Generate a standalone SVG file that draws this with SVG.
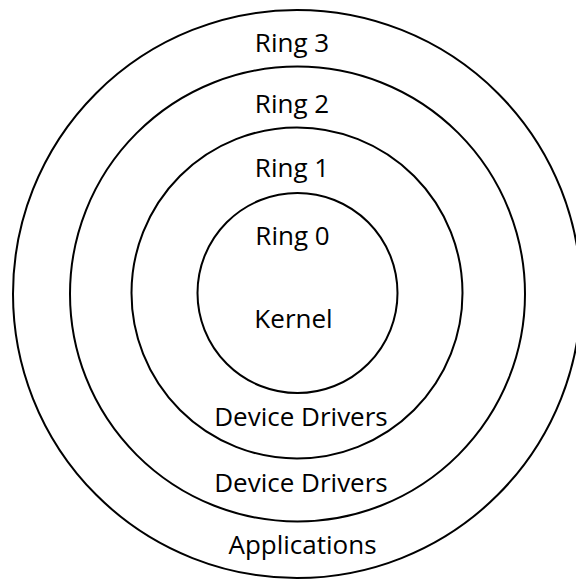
<svg xmlns="http://www.w3.org/2000/svg" width="576" height="581" viewBox="0 0 576 581">
<style>
.ring{fill:none;stroke:#000;stroke-width:2}
.lbl{font-family:"Open Sans","Liberation Sans",sans-serif;font-size:26px;fill:#000;text-anchor:middle}
</style>
<rect width="576" height="581" fill="#fff"/>
<g id="ring3"><circle class="ring" cx="297" cy="294" r="284"/><text class="lbl" x="292" y="52">Ring 3</text><text class="lbl" x="302.5" y="554">Applications</text></g>
<g id="ring2"><circle class="ring" cx="297.5" cy="294" r="227.5"/><text class="lbl" x="292" y="113">Ring 2</text><text class="lbl" x="301" y="492">Device Drivers</text></g>
<g id="ring1"><circle class="ring" cx="297" cy="293" r="165.5"/><text class="lbl" x="292" y="177">Ring 1</text><text class="lbl" x="301" y="426">Device Drivers</text></g>
<g id="ring0"><circle class="ring" cx="297.5" cy="293" r="100"/><text class="lbl" x="292.5" y="245">Ring 0</text><text class="lbl" x="293.5" y="328">Kernel</text></g>
<g id="connectors"/>
</svg>
